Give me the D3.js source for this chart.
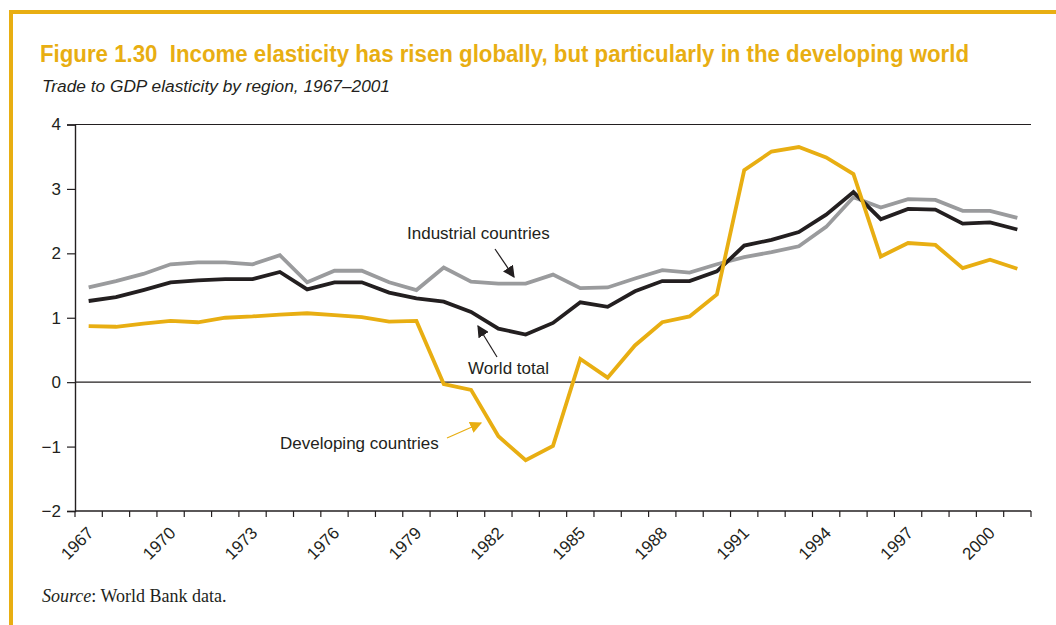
<!DOCTYPE html>
<html>
<head>
<meta charset="utf-8">
<script src="https://cdn.jsdelivr.net/npm/d3@7"></script>
<style>
  html, body { margin: 0; padding: 0; background: #fff; }
  svg { display: block; }
  text { white-space: pre; }
</style>
</head>
<body>
<svg id="chart" width="1056" height="625"></svg>
<script>
const years = d3.range(1967, 2002);
const tickYears = [1967, 1970, 1973, 1976, 1979, 1982, 1985, 1988, 1991, 1994, 1997, 2000];
const yTicks = [-2, -1, 0, 1, 2, 3, 4];

const industrial = [1.47, 1.57, 1.68, 1.83, 1.86, 1.86, 1.83, 1.97, 1.55, 1.73, 1.73, 1.55, 1.43, 1.78, 1.56, 1.53, 1.53, 1.67, 1.46, 1.47, 1.61, 1.74, 1.70, 1.83, 1.94, 2.02, 2.11, 2.41, 2.87, 2.71, 2.84, 2.83, 2.66, 2.66, 2.55];
const world = [1.26, 1.32, 1.43, 1.55, 1.58, 1.60, 1.60, 1.71, 1.44, 1.55, 1.55, 1.39, 1.30, 1.25, 1.09, 0.83, 0.74, 0.92, 1.24, 1.17, 1.41, 1.57, 1.57, 1.72, 2.12, 2.21, 2.33, 2.60, 2.95, 2.53, 2.69, 2.68, 2.46, 2.48, 2.37];
const developing = [0.87, 0.86, 0.91, 0.95, 0.93, 1.00, 1.02, 1.05, 1.07, 1.04, 1.01, 0.94, 0.95, -0.03, -0.12, -0.84, -1.21, -0.99, 0.36, 0.07, 0.57, 0.93, 1.02, 1.36, 3.29, 3.58, 3.65, 3.49, 3.23, 1.95, 2.16, 2.13, 1.77, 1.90, 1.76];

const seriesNames = ["Industrial countries", "World total", "Developing countries"];
const seriesColors = ["#9a9b9d", "#231f20", "#e8ae12"];
const seriesData = [industrial, world, developing];

const YELLOW = "#e8ae12";
const svg = d3.select("#chart");

// Frame (top and left rules)
svg.append("rect").attr("x", 9).attr("y", 10).attr("width", 1047).attr("height", 4).attr("fill", YELLOW);
svg.append("rect").attr("x", 9).attr("y", 10).attr("width", 4).attr("height", 615).attr("fill", YELLOW);

// Title (condensed look: vertical stretch)
svg.append("g").attr("transform", "translate(40,62) scale(1,1.12)")
  .append("text")
  .attr("x", 0).attr("y", 0)
  .attr("font-family", "'Liberation Sans Narrow', 'Arial Narrow', 'Liberation Sans', Arial, sans-serif")
  .attr("font-weight", "bold").attr("font-size", 22)
  .attr("fill", YELLOW)
  .attr("textLength", 929).attr("lengthAdjust", "spacingAndGlyphs")
  .text("Figure 1.30  Income elasticity has risen globally, but particularly in the developing world");

svg.append("g").attr("transform", "translate(42,92) scale(1,1.1)")
  .append("text")
  .attr("x", 0).attr("y", 0)
  .attr("font-family", "'Liberation Sans', Arial, sans-serif")
  .attr("font-style", "italic").attr("font-size", 15)
  .attr("fill", "#231f20")
  .attr("textLength", 348).attr("lengthAdjust", "spacingAndGlyphs")
  .text("Trade to GDP elasticity by region, 1967–2001");

// Scales
const x = d3.scaleBand().domain(years).range([75, 1031]);
const y = d3.scaleLinear().domain([-2, 4]).range([511, 124.5]);
const cx = d => x(d) + x.bandwidth() / 2;

const axisFont = "'Liberation Sans', Arial, sans-serif";
const FS = 17;

// Top rule at 4 and zero line
svg.append("line").attr("x1", 75).attr("x2", 1031).attr("y1", y(4)).attr("y2", y(4)).attr("stroke", "#231f20").attr("stroke-width", 1.2);
svg.append("line").attr("x1", 75).attr("x2", 1031).attr("y1", y(0)).attr("y2", y(0)).attr("stroke", "#231f20").attr("stroke-width", 1.2);

// Y axis
const yAxis = d3.axisLeft(y).tickValues(yTicks).tickSize(8).tickPadding(6)
  .tickFormat(d => d < 0 ? "\u2212" + Math.abs(d) : String(d));
const gy = svg.append("g").attr("transform", "translate(75,0)").call(yAxis);
gy.select(".domain").attr("stroke", "#231f20").attr("stroke-width", 1.4);
gy.selectAll(".tick line").attr("stroke", "#231f20").attr("stroke-width", 1.2);
gy.selectAll(".tick text").attr("font-family", axisFont).attr("font-size", FS).attr("fill", "#231f20");

// X axis: ticks at band boundaries
const boundaries = d3.range(0, years.length + 1).map(i => 75 + i * x.step());
const gx = svg.append("g");
gx.append("line").attr("x1", 75).attr("x2", 1031).attr("y1", y(-2)).attr("y2", y(-2)).attr("stroke", "#231f20").attr("stroke-width", 1.4);
gx.selectAll("line.tk").data(boundaries).join("line").attr("class", "tk")
  .attr("x1", d => d).attr("x2", d => d).attr("y1", y(-2)).attr("y2", y(-2) + 6)
  .attr("stroke", "#231f20").attr("stroke-width", 1.2);
gx.selectAll("text").data(tickYears).join("text")
  .attr("transform", d => `translate(${cx(d) + 6},${y(-2) + 23}) rotate(-45)`)
  .attr("text-anchor", "end")
  .attr("font-family", axisFont).attr("font-size", FS).attr("fill", "#231f20")
  .text(d => d);

// Lines
const line = d3.line().x((d, i) => cx(years[i])).y(d => y(d));
svg.selectAll("path.series").data(seriesData).join("path").attr("class", "series")
  .attr("d", d => line(d))
  .attr("fill", "none")
  .attr("stroke", (d, i) => seriesColors[i])
  .attr("stroke-width", 3.8)
  .attr("stroke-linejoin", "miter");

// Arrow markers
const defs = svg.append("defs");
[["arrBlack", "#231f20"], ["arrYellow", YELLOW]].forEach(([id, c]) => {
  defs.append("marker").attr("id", id).attr("viewBox", "0 0 10 10")
    .attr("refX", 9).attr("refY", 5).attr("markerWidth", 12).attr("markerHeight", 12)
    .attr("markerUnits", "userSpaceOnUse").attr("orient", "auto")
    .append("path").attr("d", "M0,0 L10,5 L0,10 z").attr("fill", c);
});

// Annotations
const ann = [
  { t: seriesNames[0], tx: 407, ty: 239, x1: 495, y1: 249, x2: 514, y2: 277, m: "arrBlack", c: "#231f20" },
  { t: seriesNames[1], tx: 468, ty: 374, x1: 497, y1: 357, x2: 478, y2: 326, m: "arrBlack", c: "#231f20" },
  { t: seriesNames[2], tx: 280, ty: 449, x1: 447, y1: 438, x2: 481, y2: 423, m: "arrYellow", c: YELLOW }
];
ann.forEach(a => {
  svg.append("text").attr("x", a.tx).attr("y", a.ty)
    .attr("font-family", axisFont).attr("font-size", FS).attr("fill", "#231f20").text(a.t);
  svg.append("line").attr("x1", a.x1).attr("y1", a.y1).attr("x2", a.x2).attr("y2", a.y2)
    .attr("stroke", a.c).attr("stroke-width", 1.2).attr("marker-end", `url(#${a.m})`);
});

// Source
const src = svg.append("text").attr("x", 42).attr("y", 602)
  .attr("font-family", "'Liberation Serif', 'Times New Roman', serif").attr("font-size", 18).attr("fill", "#231f20");
src.append("tspan").attr("font-style", "italic").text("Source");
src.append("tspan").text(": World Bank data.");
</script>
</body>
</html>
